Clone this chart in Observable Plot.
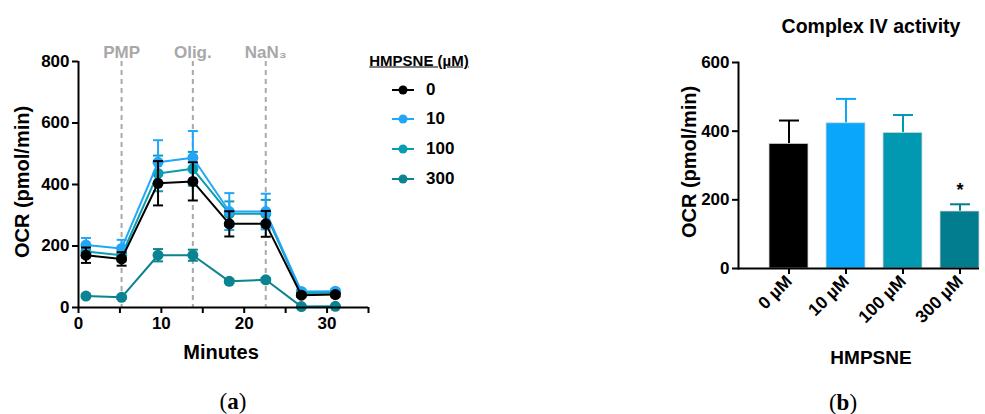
<!DOCTYPE html>
<html><head><meta charset="utf-8">
<script src="https://cdn.jsdelivr.net/npm/d3@7"></script>
<script src="https://cdn.jsdelivr.net/npm/@observablehq/plot@0.6"></script>
<style>
body{margin:0;background:#fff;}
#wrap{position:relative;width:985px;height:414px;overflow:hidden;font-family:"Liberation Sans",Arial,sans-serif;font-weight:bold;color:#000;background:#fff;}
.abs{position:absolute;white-space:nowrap;line-height:1;}
.ctr{transform:translate(-50%,-50%);}
.rot{transform:translate(-50%,-50%) rotate(-90deg);}
.panel{font-family:"Liberation Serif","DejaVu Serif",serif;font-weight:normal;font-size:23px;}
.panel b{font-weight:bold;}
svg{position:absolute;top:0;}
.leg{display:flex;align-items:center;}
</style></head><body><div id="wrap"></div>
<script>
// ---------- data ----------
const minutes = [0.9, 5.2, 9.6, 13.8, 18.2, 22.6, 26.9, 31.0];
const concentrations = ["0", "10", "100", "300"];
const ocr0   = [170, 158, 404, 410, 272, 272, 40, 42];
const sem0   = [25, 22, 72, 62, 41, 42, 6, 6];
const ocr10  = [203, 192, 472, 487, 312, 312, 52, 53];
const sem10  = [23, 28, 72, 87, 60, 58, 6, 6];
const ocr100 = [182, 170, 436, 451, 305, 305, 47, 48];
const sem100 = [20, 20, 58, 55, 40, 45, 5, 5];
const ocr300 = [37, 33, 170, 170, 85, 90, 3, 4];
const sem300 = [5, 5, 20, 18, 6, 6, 2, 2];
const seriesColors = ["#000000", "#22a6f7", "#0a9db2", "#0b8391"];
const injections = ["PMP", "Olig.", "NaN\u2083"];
const injectionTimes = [5.2, 13.8, 22.6];
const leftYTicks = [0, 200, 400, 600, 800];
const leftXTicks = [0, 5, 10, 15, 20, 25, 30, 35];

const barLabels = ["0 \u00b5M", "10 \u00b5M", "100 \u00b5M", "300 \u00b5M"];
const complexIV = [363, 423, 395, 166];
const complexIVErr = [68, 71, 52, 21];
const significant = [false, false, false, true];
const barColors = ["#000000", "#0aa6fb", "#0099b1", "#027c8f"];
const rightYTicks = [0, 200, 400, 600];

// ---------- tables ----------
const ocrs = [ocr0, ocr10, ocr100, ocr300];
const sems = [sem0, sem10, sem100, sem300];
const rows = concentrations.flatMap((c, k) => minutes.map((t, i) => ({t, conc: c, v: ocrs[k][i], e: sems[k][i]})));
const bars = barLabels.map((label, i) => ({label, v: complexIV[i], e: complexIVErr[i], sig: significant[i]}));

const cap = {draw(ctx, size) { const r = Math.sqrt(size / Math.PI); ctx.moveTo(-r, 0); ctx.lineTo(r, 0); }};
const font = '"Liberation Sans", Arial, sans-serif';

// ---------- left chart ----------
const seriesMarks = [...concentrations].reverse().flatMap(c => {
  const d = rows.filter(r => r.conc === c);
  return [
    Plot.ruleX(d, {x: "t", y1: r => r.v - r.e, y2: r => r.v + r.e, stroke: "conc", strokeWidth: 2}),
    Plot.dot(d, {x: "t", y: r => r.v + r.e, symbol: cap, r: 5, stroke: "conc", strokeWidth: 2, fill: "none"}),
    Plot.dot(d, {x: "t", y: r => r.v - r.e, symbol: cap, r: 5, stroke: "conc", strokeWidth: 2, fill: "none"}),
    Plot.line(d, {x: "t", y: "v", stroke: "conc", strokeWidth: 2}),
    Plot.dot(d, {x: "t", y: "v", r: 5.5, fill: "conc"})
  ];
});

const left = Plot.plot({
  width: 372, height: 370,
  marginLeft: 78, marginRight: 4, marginTop: 61, marginBottom: 63,
  style: {fontFamily: font, fontWeight: "bold", fontSize: "17px", color: "#000", background: "transparent", overflow: "visible"},
  x: {domain: [0, 35]},
  y: {domain: [0, 800]},
  color: {domain: concentrations, range: seriesColors},
  marks: [
    Plot.ruleX(injectionTimes, {stroke: "#a9a9a9", strokeWidth: 2, strokeDasharray: "5,4"}),
    Plot.text(injections, {x: (d, i) => injectionTimes[i], frameAnchor: "top", dy: -16, fill: "#a8a8a8", fontSize: 17}),
    ...seriesMarks,
    Plot.ruleX([0], {strokeWidth: 2}),
    Plot.ruleY([0], {strokeWidth: 2}),
    Plot.axisY({ticks: leftYTicks, tickSize: 6, tickPadding: 3, strokeWidth: 2, label: null, tickFormat: d => d}),
    Plot.axisX({ticks: leftXTicks, tickSize: 6, tickPadding: 3, strokeWidth: 2, label: null, tickFormat: d => d % 10 === 0 ? d : ""})
  ]
});
left.style.left = "0px";

// ---------- right chart ----------
const right = Plot.plot({
  width: 305, height: 380,
  marginLeft: 58, marginRight: 6, marginTop: 62, marginBottom: 112,
  style: {fontFamily: font, fontWeight: "bold", fontSize: "17px", color: "#000", background: "transparent", overflow: "visible"},
  x: {domain: barLabels, paddingInner: 0.32, paddingOuter: 0.257, align: 1},
  y: {domain: [0, 600]},
  color: {domain: barLabels, range: barColors},
  marks: [
    Plot.ruleX(bars, {x: "label", y1: "v", y2: d => d.v + d.e, stroke: "label", strokeWidth: 2}),
    Plot.dot(bars, {x: "label", y: d => d.v + d.e, symbol: cap, r: 10, stroke: "label", strokeWidth: 2, fill: "none"}),
    Plot.barY(bars, {x: "label", y: "v", fill: "label", stroke: "#d8d8d8", strokeWidth: 0.8}),
    Plot.text(bars.filter(d => d.sig), {x: "label", y: d => d.v + d.e, text: () => "*", dy: -14, fontSize: 18, fontWeight: "bold"}),
    Plot.ruleY([0], {strokeWidth: 2}),
    Plot.frame({anchor: "left", strokeWidth: 2}),
    Plot.axisY({ticks: rightYTicks, tickSize: 6, tickPadding: 3, strokeWidth: 2, label: null, tickFormat: d => d}),
    Plot.axisX({tickSize: 6, tickPadding: 4, strokeWidth: 2, tickRotate: -45, label: null, fontSize: 17.5})
  ]
});
right.style.left = "680px";

// ---------- page ----------
const wrap = document.getElementById("wrap");
wrap.append(left, right);
function addText(txt, x, y, cls, size, extra, html) {
  const el = document.createElement("div");
  el.className = "abs " + cls;
  if (html) el.innerHTML = txt; else el.textContent = txt;
  el.style.left = x + "px";
  el.style.top = y + "px";
  if (size) el.style.fontSize = size + "px";
  if (extra) Object.assign(el.style, extra);
  wrap.append(el);
  return el;
}
addText("OCR (pmol/min)", 22, 182, "rot", 20);
addText("Minutes", 221, 352, "ctr", 20);
addText("(<b>a</b>)", 233, 401, "ctr panel", null, null, true);
addText("Complex IV activity", 871, 27, "ctr", 19.5);
addText("OCR (pmol/min)", 689, 162, "rot", 20);
addText("HMPSNE", 871, 357, "ctr", 19);
addText("(<b>b</b>)", 843, 402, "ctr panel", null, null, true);
addText("HMPSNE (\u00b5M)", 419, 60, "ctr", 15, {textDecoration: "underline"});

// legend
const legendY = [89, 118, 148, 178];
concentrations.forEach((c, i) => {
  const row = document.createElement("div");
  row.className = "abs leg";
  row.style.left = "391px";
  row.style.top = (legendY[i] - 8) + "px";
  row.innerHTML = `<svg width="24" height="16" style="position:static"><line x1="1" y1="8" x2="23" y2="8" stroke="${seriesColors[i]}" stroke-width="2"/><circle cx="12" cy="8" r="4.5" fill="${seriesColors[i]}"/></svg><span style="font-size:17px;margin-left:11px">${c}</span>`;
  wrap.append(row);
});
</script></body></html>
